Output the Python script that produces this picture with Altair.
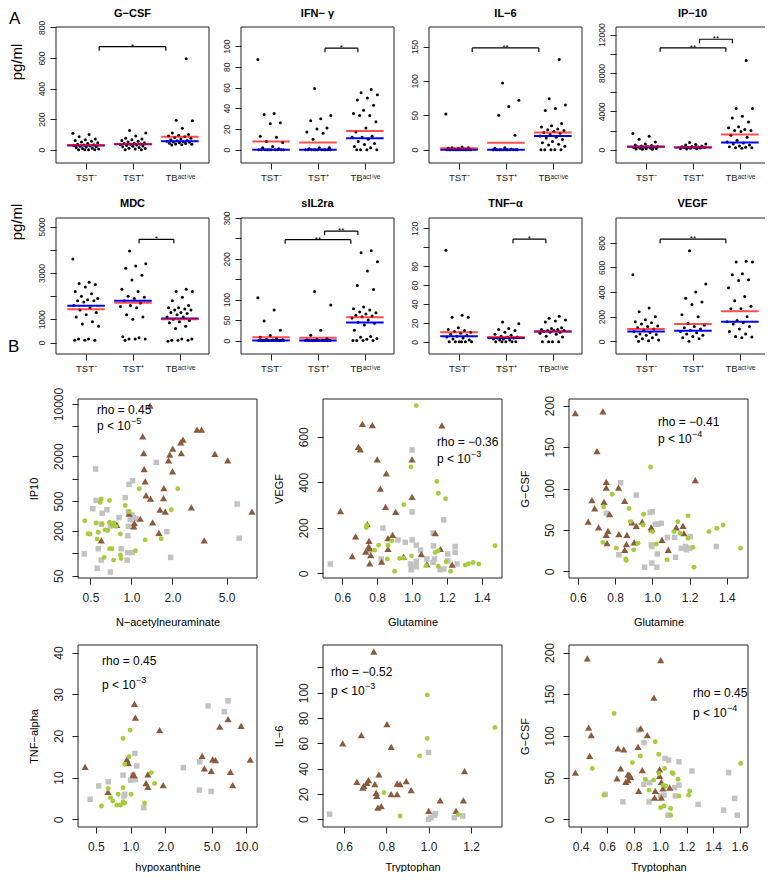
import altair as alt
import pandas as pd

FONT = "Liberation Sans"
INK = "#222222"
BROWN = "#8b5a3c"
GREEN = "#a5cd39"
GRAY = "#c2c2c2"

GROUP_LABELS = ["TST⁻", "TST⁺", "TBᵃᶜᵗⁱᵛᵉ"]

# ------------------------------------------------------------------ Panel A data
gcsf_neg = [108, 100, 85, 70, 65, 60, 55, 50, 45, 40, 35, 32, 30, 28, 25, 22, 20, 18, 15, 10, 8, 5, 0, 0, 0, 0]
gcsf_pos = [125, 110, 90, 75, 70, 65, 60, 55, 50, 45, 42, 40, 38, 35, 32, 30, 28, 25, 22, 20, 15, 10, 8, 5, 0, 0]
gcsf_tb = [596, 192, 190, 140, 110, 100, 95, 90, 85, 80, 75, 70, 65, 60, 58, 55, 52, 50, 48, 45, 42, 40, 38, 35, 32, 30]
gcsf_mean = [30, 38, 85]
gcsf_median = [27, 35, 55]

ifn_neg = [87, 35, 34, 26, 25, 13, 12, 8, 7, 3, 2, 1, 0, 0, 0, 0, 0, 0, 0, 0, 0, 0]
ifn_pos = [59, 33, 30, 28, 21, 20, 17, 16, 10, 2, 2, 1, 0, 0, 0, 0, 0, 0, 0, 0, 0, 0, 0]
ifn_tb = [58, 55, 53, 50, 48, 43, 38, 35, 33, 33, 27, 21, 17, 13, 12, 12, 10, 8, 6, 5, 3, 2, 0, 0, 0, 0]
ifn_mean = [8, 7, 18]
ifn_median = [0, 0, 11]

il6_neg = [52, 4, 3, 3, 2, 2, 1, 1, 0, 0, 0, 0, 0, 0, 0, 0, 0, 0, 0, 0, 0]
il6_pos = [97, 72, 63, 50, 21, 3, 2, 1, 0, 0, 0, 0, 0, 0, 0, 0, 0, 0, 0, 0]
il6_tb = [131, 74, 65, 60, 57, 38, 35, 33, 30, 29, 28, 27, 25, 24, 22, 20, 18, 17, 15, 12, 10, 8, 7, 5, 0, 0, 0, 0, 0]
il6_mean = [2, 10, 25]
il6_median = [0, 0, 20]

ip10_neg = [1700, 1400, 1100, 800, 600, 500, 450, 400, 350, 320, 300, 280, 250, 200, 180, 150, 120, 100, 80, 60, 50]
ip10_pos = [750, 600, 550, 500, 400, 350, 300, 280, 250, 230, 220, 200, 180, 150, 120, 100, 80]
ip10_tb = [9300, 4300, 4300, 3500, 3300, 2900, 2400, 2300, 2100, 2000, 2000, 1900, 1500, 1300, 1000, 800, 700, 600, 500, 400, 300, 250, 200, 200, 150]
ip10_mean = [350, 250, 1600]
ip10_median = [320, 230, 750]

mdc_neg = [3600, 2600, 2550, 2500, 2400, 2200, 2100, 2000, 1900, 1850, 1800, 1800, 1750, 1600, 1500, 1400, 1300, 1200, 1100, 900, 800, 700, 150, 150, 100, 100, 100]
mdc_pos = [3950, 3400, 3300, 3200, 2900, 2700, 2300, 2200, 2000, 1950, 1900, 1800, 1700, 1600, 1550, 1500, 1200, 1100, 1000, 250, 200, 150, 150, 150, 100]
mdc_tb = [2300, 2200, 2200, 1950, 1800, 1600, 1500, 1500, 1450, 1400, 1400, 1300, 1300, 1250, 1200, 1100, 1100, 1000, 950, 900, 850, 700, 600, 150, 150, 100, 100, 100, 50]
mdc_mean = [1430, 1720, 1000]
mdc_median = [1590, 1800, 1040]

sil_neg = [105, 75, 48, 25, 12, 8, 5, 3, 2, 1, 0, 0, 0, 0, 0, 0, 0, 0, 0, 0, 0, 0, 0, 0, 0]
sil_pos = [120, 87, 25, 13, 5, 3, 2, 0, 0, 0, 0, 0, 0, 0, 0, 0, 0, 0, 0, 0, 0, 0, 0]
sil_tb = [220, 215, 193, 170, 135, 125, 82, 78, 75, 70, 68, 65, 62, 60, 58, 55, 50, 45, 42, 38, 25, 10, 8, 5, 3, 0, 0, 0, 0]
sil_mean = [8, 7, 57]
sil_median = [0, 0, 44]

tnf_neg = [97, 28, 26, 26, 15, 13, 12, 11, 10, 9, 8, 7, 6, 5, 4, 3, 2, 0, 0, 0, 0, 0, 0]
tnf_pos = [21, 19, 14, 13, 12, 10, 8, 7, 6, 5, 5, 4, 4, 3, 3, 2, 2, 0, 0, 0, 0, 0]
tnf_tb = [27, 25, 23, 22, 21, 15, 14, 13, 13, 12, 12, 12, 11, 10, 10, 9, 8, 6, 5, 0, 0, 0, 0]
tnf_mean = [10, 5, 11]
tnf_median = [6, 4, 11]

vegf_neg = [540, 270, 240, 200, 175, 160, 150, 140, 125, 120, 110, 100, 90, 80, 70, 60, 55, 50, 40, 30, 20, 10, 5, 0]
vegf_pos = [735, 465, 400, 350, 320, 300, 215, 200, 145, 130, 120, 110, 100, 90, 80, 70, 60, 50, 40, 30, 20, 0]
vegf_tb = [650, 645, 645, 550, 540, 500, 495, 435, 365, 330, 285, 265, 265, 200, 170, 160, 150, 140, 120, 100, 80, 60, 40, 35, 30]
vegf_mean = [100, 140, 245]
vegf_median = [80, 85, 160]

# significance brackets: start, end (group units), height, label
gcsf_br = ([1.28], [2.70], [674], ["*"])
ifn_br = ([2.15], [2.85], [98], ["*"])
il6_br = ([1.28], [2.70], [148], ["**"])
ip10_br = ([1.30, 2.14], [2.70, 2.84], [10620, 11520], ["**", "**"])
mdc_br = ([2.13], [2.87], [4453], ["*"])
sil_br = ([1.30, 2.14], [2.70, 2.85], [247, 268], ["**", "**"])
tnf_br = ([2.15], [2.85], [108.6], ["*"])
vegf_br = ([1.30], [2.70], [830], ["**"])

# ------------------------------------------------------------------ Panel B data
ip_brown_x = [1.37, 3.03, 3.27, 1.21, 2.39, 2.30, 2.01, 1.91, 1.23, 2.32, 4.10, 1.87, 5.09, 1.24, 2.00, 1.26, 1.73, 1.28, 1.38, 1.72, 2.75, 1.62, 1.77, 7.67, 0.96, 1.16, 1.43, 1.05, 0.78, 1.04, 1.59, 3.42, 0.60]
ip_brown_y = [9490, 4530, 4530, 3680, 3330, 3060, 2520, 2090, 2200, 2200, 2140, 1760, 1750, 1345, 1250, 919, 748, 597, 538, 550, 412, 383, 360, 360, 339, 290, 259, 254, 240, 229, 187, 149, 149]
ip_green_x = [1.14, 2.19, 0.60, 0.69, 0.59, 0.90, 0.96, 1.96, 0.454, 0.55, 0.69, 0.72, 0.74, 0.61, 0.77, 0.497, 0.48, 0.57, 0.64, 0.67, 0.83, 0.56, 1.26, 1.65, 0.69, 0.72, 1.07, 0.63, 0.74, 0.83, 0.84]
ip_green_y = [733, 733, 533, 510, 480, 438, 360, 383, 273, 254, 260, 239, 255, 247, 229, 181, 183, 191, 206, 202, 181, 155, 151, 157, 115, 115, 108, 88, 81, 95, 85]
ip_gray_x = [0.545, 1.52, 1.02, 0.96, 0.90, 0.55, 0.52, 0.66, 0.61, 0.95, 1.01, 1.08, 0.98, 1.04, 0.81, 0.60, 0.70, 0.95, 0.94, 1.82, 5.97, 6.18, 0.57, 0.45, 0.84, 0.94, 1.01, 0.93, 1.94, 0.60, 0.56, 0.70]
ip_gray_y = [1345, 1650, 936, 840, 557, 510, 395, 383, 343, 360, 325, 290, 282, 300, 300, 245, 232, 229, 172, 194, 457, 159, 115, 98, 115, 102, 102, 81, 88, 81, 63, 56]

ve_brown_x = [0.715, 0.772, 1.171, 0.692, 0.703, 0.80, 1.00, 0.852, 0.818, 1.00, 0.589, 0.848, 0.906, 0.743, 1.133, 0.676, 0.888, 0.862, 0.753, 0.751, 0.757, 0.862, 1.163, 0.734, 0.763, 0.657, 0.951, 1.053, 1.085, 0.757, 0.825, 1.23]
ve_brown_y = [657, 651, 650, 556, 545, 501, 501, 439, 372, 336, 273, 292, 270, 216, 177, 162, 169, 155, 143, 118, 111, 107, 107, 96, 80, 76, 73, 85, 41, 44, 51, 38]
ve_green_x = [1.024, 0.993, 1.142, 1.151, 1.192, 0.953, 0.741, 0.737, 0.884, 0.808, 0.862, 0.785, 0.858, 0.928, 0.997, 0.951, 1.081, 1.133, 1.151, 1.221, 1.196, 1.305, 1.324, 1.350, 1.383, 1.476, 0.90, 1.15]
ve_green_y = [737, 467, 404, 352, 328, 302, 212, 201, 143, 124, 124, 102, 63, 66, 77, 67, 34, 92, 31, 9, 51, 36, 42, 48, 41, 121, 9, 99]
ve_gray_x = [1.0, 1.0, 1.182, 0.833, 1.121, 0.919, 1.0, 0.961, 1.024, 1.049, 1.123, 1.247, 1.205, 1.247, 1.085, 1.129, 0.991, 1.024, 1.003, 1.024, 0.995, 1.161, 1.182, 1.205, 1.258, 0.531, 0.757, 0.823, 1.12]
ve_gray_y = [542, 270, 235, 199, 177, 147, 147, 136, 124, 102, 121, 118, 85, 92, 63, 63, 41, 53, 29, 29, 16, 16, 19, 55, 41, 41, 99, 63, 48]

gg_brown_x = [0.586, 0.734, 0.702, 1.230, 0.752, 0.752, 0.818, 0.851, 0.675, 0.74, 0.69, 0.77, 0.655, 0.890, 0.945, 0.913, 0.993, 0.997, 0.711, 0.761, 1.128, 1.164, 0.752, 0.82, 0.863, 1.169, 1.051, 0.902, 0.756, 0.86, 0.851, 1.085]
gg_brown_y = [191, 193, 145, 110, 108, 101, 101, 85, 86, 84, 76, 69, 60, 59, 60, 55, 53, 51, 53, 49, 53, 55, 44, 45, 44, 46, 38, 35, 34, 33, 26, 26]
gg_green_x = [0.99, 0.784, 0.874, 0.953, 1.137, 1.191, 0.881, 0.949, 0.738, 0.734, 0.922, 1.115, 1.149, 1.191, 1.303, 1.346, 1.379, 1.473, 0.806, 0.856, 0.860, 0.899, 1.021, 1.078, 1.217, 1.223, 0.999]
gg_green_y = [126, 93, 76, 69, 60, 67, 60, 56, 78, 35, 34, 48, 46, 40, 48, 52, 56, 28, 28, 15, 13, 26, 33, 14, 29, 5, 48]
gg_gray_x = [0.829, 0.913, 0.999, 0.988, 0.752, 1.015, 1.03, 1.047, 1.08, 1.119, 1.203, 0.994, 0.997, 1.155, 1.178, 1.182, 1.2, 1.124, 1.026, 0.82, 0.958, 0.997, 1.024, 1.343]
gg_gray_y = [107, 92, 72, 71, 70, 57, 57, 58, 41, 41, 42, 32, 30, 28, 30, 26, 28, 17, 21, 20, 5, 10, 5, 30]

tn_brown_x = [1.08, 1.10, 1.78, 0.404, 0.93, 0.955, 1.05, 1.07, 1.41, 1.36, 1.41, 1.91, 0.638, 6.95, 5.89, 9.0, 4.15, 5.12, 5.41, 10.8, 4.34, 4.98, 7.29, 7.62]
tn_brown_y = [27.7, 24.4, 21.4, 12.6, 14.4, 13.5, 10.8, 10.6, 10.8, 8.7, 7.8, 8.2, 6.6, 24.0, 22.2, 22.4, 15.2, 14.4, 14.2, 14.3, 12.2, 11.6, 11.4, 8.2]
tn_green_x = [0.99, 0.86, 0.89, 0.97, 1.51, 1.61, 0.86, 0.64, 0.67, 0.70, 0.78, 1.01, 0.56, 0.76, 0.82, 0.89, 1.32, 0.86]
tn_green_y = [21.4, 19.4, 13.2, 15.0, 11.2, 8.6, 7.6, 7.4, 5.2, 4.4, 6.0, 6.0, 3.2, 3.4, 3.4, 3.9, 3.9, 4.2]
tn_gray_x = [6.95, 4.67, 6.45, 1.09, 1.13, 0.53, 0.64, 0.86, 1.0, 1.05, 1.10, 2.85, 3.96, 3.93, 4.96, 0.447, 0.89, 1.30, 0.875]
tn_gray_y = [28.4, 27.2, 25.8, 15.8, 12.8, 8.0, 9.0, 10.6, 9.4, 10.6, 9.5, 12.4, 13.8, 7.0, 6.7, 4.8, 6.0, 2.8, 5.6]

il_brown_x = [0.741, 0.803, 0.682, 0.594, 0.823, 0.661, 0.716, 0.708, 0.694, 0.689, 0.746, 0.765, 0.752, 0.755, 0.823, 0.851, 0.851, 0.865, 0.894, 0.917, 0.760, 0.776, 1.0, 1.054, 1.129, 1.164, 1.169]
il_brown_y = [132.5, 75.2, 66.5, 59.9, 57.3, 29.6, 30.9, 28.8, 26.4, 25.1, 27.7, 35.4, 20.8, 18.5, 19.8, 19.8, 28.2, 27.7, 30.1, 23.0, 9.2, 10.3, 6.6, 15.0, 6.6, 15.0, 38.0]
il_green_x = [0.993, 0.993, 1.313, 0.957, 0.789, 0.865, 1.14]
il_green_y = [98.2, 63.9, 72.6, 50.1, 21.1, 2.6, 3.7]
il_gray_x = [0.999, 0.532, 0.999, 1.011, 1.027, 1.032, 1.121, 1.161]
il_gray_y = [52.8, 4.0, 0.0, 1.3, 3.2, 4.5, 1.3, 2.6]

gt_brown_x = [0.45, 1.004, 0.953, 0.46, 0.48, 0.853, 0.903, 0.833, 0.682, 0.725, 0.468, 0.36, 0.702, 0.757, 0.77, 0.777, 0.757, 0.74, 0.674, 0.865, 0.996, 0.996, 1.009, 0.838, 0.963, 1.021, 1.072, 0.958, 1.009]
gt_brown_y = [193, 191, 146, 110, 101, 109, 101, 87, 85, 84, 76, 56, 61, 54, 53, 51, 47, 45, 49, 59, 60, 52, 45, 34, 34, 37, 38, 26, 26]
gt_green_x = [0.652, 0.963, 0.85, 0.989, 0.79, 0.488, 1.034, 1.089, 1.097, 1.135, 0.888, 0.951, 0.916, 1.021, 1.042, 1.223, 1.215, 1.142, 0.576, 1.004, 1.029, 1.079, 1.079, 1.608, 0.991]
gt_green_y = [127, 93, 76, 78, 68, 61, 61, 56, 55, 48, 48, 47, 35, 41, 40, 34, 29, 28, 29, 14, 16, 13, 5, 67, 55]
gt_gray_x = [0.84, 0.878, 1.037, 1.064, 1.142, 1.24, 1.517, 1.562, 1.582, 1.479, 1.286, 0.586, 0.719, 0.916, 0.878, 0.921, 1.004, 1.109, 1.142, 1.114, 1.059, 1.029]
gt_gray_y = [107, 92, 73, 71, 69, 58, 56, 25, 5, 11, 18, 30, 21, 21, 42, 44, 28, 38, 41, 28, 5, 29]

# ------------------------------------------------------------------ layout geometry (px inside the chart)
W_TOT, H_TOT = 757, 864
A_LEFT = [48, 233, 421, 608]
A_W = 153
A_ROWS = [(19, 155), (210, 346)]
B_LEFT = [70, 315, 561]
B_W = 179
B_ROWS = [(391, 570), (637, 819)]

ONE = pd.DataFrame({"k": [0]})
LABEL_EXPR = ("datum.value == 1 ? '%s' : (datum.value == 2 ? '%s' : '%s')"
              % tuple(GROUP_LABELS))


def label_subset(vals):
    return "indexof([%s], datum.value) >= 0 ? datum.label : ''" % ",".join(str(v) for v in vals)


def text_layer(txt, x, y, size, **kw):
    return alt.Chart(ONE).mark_text(text=txt, fontSize=size, font=FONT, color="black", **kw).encode(
        x=alt.value(x), y=alt.value(y))


def box_layer(xdom, ydom, X, Y):
    df = pd.DataFrame({"bx": [xdom[0]], "bx2": [xdom[1]], "by": [ydom[0]], "by2": [ydom[1]]})
    return alt.Chart(df).mark_rect(fill="transparent", stroke=INK, strokeWidth=1).encode(
        x=X("bx"), x2="bx2:Q", y=Y("by"), y2="by2:Q")


def a_panel(title, neg, pos, tb, means, medians, ydom, yticks, ylabels, br, x0, y0, y1, tgap):
    rows = []
    for g, arr in enumerate([neg, pos, tb]):
        for i, v in enumerate(arr):
            frac = (i * 0.6180339887 + 0.37 * g) % 1.0
            rows.append({"x": g + 1 + 0.56 * (frac - 0.5), "y": v})
    pts = pd.DataFrame(rows)
    lines = pd.DataFrame({"x1": [0.6, 1.6, 2.6], "x2": [1.4, 2.4, 3.4],
                          "mean": means, "median": medians})
    brd = pd.DataFrame({"x1": br[0], "x2": br[1], "y": br[2], "lab": br[3]})
    brd["xm"] = (brd["x1"] + brd["x2"]) / 2

    xdom = [0.36, 3.62]
    xs = alt.Scale(domain=xdom, range=[x0, x0 + A_W], nice=False, zero=False)
    ys = alt.Scale(domain=ydom, range=[y1, y0], nice=False, zero=False)
    xax = alt.Axis(orient="bottom", offset=y1 - H_TOT, values=[1, 2, 3], labelExpr=LABEL_EXPR,
                   tickSize=6, labelPadding=3, labelFontSize=9.5, title=None,
                   labelOverlap=False, labelFlush=False)
    yax = alt.Axis(orient="left", offset=-x0, values=yticks, format="d",
                   labelExpr=label_subset(ylabels), labelAngle=270,
                   labelAlign="center", labelBaseline="bottom", tickSize=6, labelPadding=4,
                   labelFontSize=8.5, title=None, labelOverlap=False, labelFlush=False)

    def X(f):
        return alt.X(f, type="quantitative", scale=xs, axis=xax)

    def Y(f):
        return alt.Y(f, type="quantitative", scale=ys, axis=yax)

    return alt.layer(
        box_layer(xdom, ydom, X, Y),
        alt.Chart(pts).mark_circle(size=9, color="black", opacity=1).encode(x=X("x"), y=Y("y")),
        alt.Chart(lines).mark_rule(color="#0000ff", strokeWidth=2).encode(
            x=X("x1"), x2="x2:Q", y=Y("median")),
        alt.Chart(lines).mark_rule(color="#ff0000", strokeWidth=2, opacity=0.7).encode(
            x=X("x1"), x2="x2:Q", y=Y("mean")),
        alt.Chart(brd).mark_rule(color="black", strokeWidth=1.2).encode(
            x=X("x1"), x2="x2:Q", y=Y("y")),
        alt.Chart(brd).mark_rule(color="black", strokeWidth=1.2, y2Offset=4).encode(
            x=X("x1"), y=Y("y"), y2="y:Q"),
        alt.Chart(brd).mark_rule(color="black", strokeWidth=1.2, y2Offset=4).encode(
            x=X("x2"), y=Y("y"), y2="y:Q"),
        alt.Chart(brd).mark_text(fontSize=8, font=FONT, baseline="alphabetic", dy=2).encode(
            x=X("xm"), y=Y("y"), text="lab:N"),
        text_layer(title, x0 + A_W / 2, y0 - tgap, 11, fontWeight="bold", align="center",
                   baseline="alphabetic"),
    )


def b_panel(brown, green, gray, xdom, xlog, xticks, ydom, ylog, yticks, ylabels,
            xtitle, ytitle, rho, pexp, rx, ry, px, py, x0, y0, y1, xtpad):
    xsd = dict(domain=xdom, range=[x0, x0 + B_W], nice=False)
    if xlog:
        xsd["type"] = "log"
    else:
        xsd["zero"] = False
    ysd = dict(domain=ydom, range=[y1, y0], nice=False)
    if ylog:
        ysd["type"] = "log"
    else:
        ysd["zero"] = False
    xs = alt.Scale(**xsd)
    ys = alt.Scale(**ysd)
    xax = alt.Axis(orient="bottom", offset=y1 - H_TOT, values=xticks, format=".1f", tickSize=6,
                   labelPadding=8, labelFontSize=12, title=xtitle, titleFontSize=11,
                   titleFontWeight="normal", titlePadding=xtpad, titleColor="black",
                   labelOverlap=False, labelFlush=False)
    yax = alt.Axis(orient="left", offset=-x0, values=yticks, format="d",
                   labelExpr=label_subset(ylabels), labelAngle=270,
                   labelAlign="center", labelBaseline="bottom", tickSize=6, labelPadding=7,
                   labelFontSize=12, title=ytitle, titleFontSize=11, titleFontWeight="normal",
                   titlePadding=13, titleColor="black", labelOverlap=False, labelFlush=False)

    def X(f):
        return alt.X(f, type="quantitative", scale=xs, axis=xax)

    def Y(f):
        return alt.Y(f, type="quantitative", scale=ys, axis=yax)

    def pts(xy):
        return alt.Chart(pd.DataFrame({"x": xy[0], "y": xy[1]}))

    return alt.layer(
        box_layer(xdom, ydom, X, Y),
        pts(gray).mark_square(size=30, color=GRAY, opacity=1).encode(x=X("x"), y=Y("y")),
        pts(brown).mark_point(shape="triangle-up", size=52, filled=True, color=BROWN,
                              opacity=1).encode(x=X("x"), y=Y("y")),
        pts(green).mark_circle(size=24, color=GREEN, opacity=1).encode(x=X("x"), y=Y("y")),
        text_layer(rho, x0 + rx, y0 + ry, 12, align="left", baseline="alphabetic"),
        text_layer("p < 10", x0 + px, y0 + py, 12, align="left", baseline="alphabetic"),
        text_layer(pexp, x0 + px + 34, y0 + py - 6, 9, align="left", baseline="alphabetic"),
    )


# ------------------------------------------------------------------ panels
(r1t, r1b), (r2t, r2b) = A_ROWS
(b1t, b1b), (b2t, b2b) = B_ROWS

panels = [
    a_panel("G−CSF", gcsf_neg, gcsf_pos, gcsf_tb, gcsf_mean, gcsf_median, [-87, 803],
            [0, 200, 400, 600, 800], [0, 200, 400, 600, 800], gcsf_br, A_LEFT[0], r1t, r1b, 10),
    a_panel("IFN− γ", ifn_neg, ifn_pos, ifn_tb, ifn_mean, ifn_median, [-12.8, 118.4],
            [0, 20, 40, 60, 80, 100], [0, 20, 40, 60, 80, 100], ifn_br, A_LEFT[1], r1t, r1b, 10),
    a_panel("IL−6", il6_neg, il6_pos, il6_tb, il6_mean, il6_median, [-19.3, 178.4],
            [0, 50, 100, 150], [0, 50, 100, 150], il6_br, A_LEFT[2], r1t, r1b, 10),
    a_panel("IP−10", ip10_neg, ip10_pos, ip10_tb, ip10_mean, ip10_median, [-1383, 12795],
            [0, 2000, 4000, 6000, 8000, 10000, 12000], [0, 4000, 8000, 12000], ip10_br,
            A_LEFT[3], r1t, r1b, 10),
    a_panel("MDC", mdc_neg, mdc_pos, mdc_tb, mdc_mean, mdc_median, [-496, 5373],
            [0, 1000, 2000, 3000, 4000, 5000], [0, 1000, 3000, 5000], mdc_br,
            A_LEFT[0], r2t, r2b, 11),
    a_panel("sIL2ra", sil_neg, sil_pos, sil_tb, sil_mean, sil_median, [-33, 300],
            [0, 50, 100, 150, 200, 250, 300], [0, 50, 100, 200, 300], sil_br,
            A_LEFT[1], r2t, r2b, 11),
    a_panel("TNF−α", tnf_neg, tnf_pos, tnf_tb, tnf_mean, tnf_median, [-12.9, 131],
            [0, 20, 40, 60, 80, 100, 120], [0, 20, 40, 60, 80, 120], tnf_br,
            A_LEFT[2], r2t, r2b, 11),
    a_panel("VEGF", vegf_neg, vegf_pos, vegf_tb, vegf_mean, vegf_median, [-103, 1002],
            [0, 200, 400, 600, 800], [0, 200, 400, 600, 800], vegf_br, A_LEFT[3], r2t, r2b, 11),
    b_panel((ip_brown_x, ip_brown_y), (ip_green_x, ip_green_y), (ip_gray_x, ip_gray_y),
            [0.405, 8.35], True, [0.5, 1, 2, 5], [46.6, 11670], True,
            [50, 100, 200, 500, 1000, 2000, 5000, 10000], [50, 200, 500, 2000, 10000],
            "N−acetylneuraminate", "IP10", "rho = 0.45", "−5", 19, 15, 19, 31,
            B_LEFT[0], b1t, b1b, 13),
    b_panel((ve_brown_x, ve_brown_y), (ve_green_x, ve_green_y), (ve_gray_x, ve_gray_y),
            [0.489, 1.516], False, [0.6, 0.8, 1.0, 1.2, 1.4], [-20.4, 766], False,
            [0, 200, 400, 600], [0, 200, 400, 600],
            "Glutamine", "VEGF", "rho = −0.36", "−3", 114, 47, 114, 64, B_LEFT[1], b1t, b1b, 13),
    b_panel((gg_brown_x, gg_brown_y), (gg_green_x, gg_green_y), (gg_gray_x, gg_gray_y),
            [0.552, 1.513], False, [0.6, 0.8, 1.0, 1.2, 1.4], [-8, 208], False,
            [0, 50, 100, 150, 200], [0, 50, 100, 150, 200],
            "Glutamine", "G−CSF", "rho = −0.41", "−4", 89, 27, 89, 44, B_LEFT[2], b1t, b1b, 13),
    b_panel((tn_brown_x, tn_brown_y), (tn_green_x, tn_green_y), (tn_gray_x, tn_gray_y),
            [0.351, 12.36], True, [0.5, 1, 2, 5, 10], [-1.84, 41.8], False,
            [0, 10, 20, 30, 40], [0, 10, 20, 30, 40],
            "hypoxanthine", "TNF−alpha", "rho = 0.45", "−3", 24, 20, 24, 44,
            B_LEFT[0], b2t, b2b, 9),
    b_panel((il_brown_x, il_brown_y), (il_green_x, il_green_y), (il_gray_x, il_gray_y),
            [0.501, 1.346], False, [0.6, 0.8, 1.0, 1.2], [-6.1, 137.7], False,
            [0, 20, 40, 60, 80, 100, 120], [0, 20, 40, 60, 80, 100],
            "Tryptophan", "IL−6", "rho = −0.52", "−3", 8, 31, 8, 50, B_LEFT[1], b2t, b2b, 9),
    b_panel((gt_brown_x, gt_brown_y), (gt_green_x, gt_green_y), (gt_gray_x, gt_gray_y),
            [0.312, 1.663], False, [0.4, 0.6, 0.8, 1.0, 1.2, 1.4, 1.6], [-9.2, 209], False,
            [0, 50, 100, 150, 200], [0, 50, 100, 150, 200],
            "Tryptophan", "G−CSF", "rho = 0.45", "−4", 124, 52, 124, 72, B_LEFT[2], b2t, b2b, 9),
]

labels = [
    text_layer("A", 1, 16, 17, align="left", baseline="alphabetic"),
    text_layer("B", 0, 344, 17, align="left", baseline="alphabetic"),
    text_layer("pg/ml", 9, 54, 15, angle=270, align="center", baseline="middle"),
    text_layer("pg/ml", 9, 214, 15, angle=270, align="center", baseline="middle"),
]

chart = alt.layer(*panels, *labels).resolve_scale(x="independent", y="independent").properties(
    width=W_TOT, height=H_TOT, autosize=alt.AutoSizeParams(type="none"), padding=0
).configure(font=FONT).configure_view(stroke="transparent").configure_axis(
    grid=False, domain=False, labelColor=INK, tickColor=INK, labelFont=FONT, titleFont=FONT)

chart.save("out.html", embed_options={"renderer": "svg", "actions": False})
